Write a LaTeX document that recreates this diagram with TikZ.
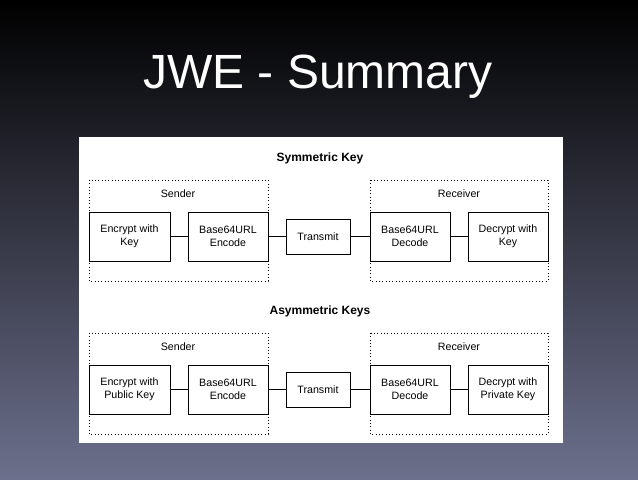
\documentclass[tikz,border=0pt]{standalone}
\usepackage{fontspec}
\setmainfont{Liberation Sans}
\begin{document}
\begin{tikzpicture}[x=0.75pt,y=-0.75pt,
 box/.style={draw,line width=0.7pt,align=center,font=\fontsize{8}{9.5}\selectfont,inner sep=0pt},
 grp/.style={draw,dotted,line width=0.5pt},
 lab/.style={font=\fontsize{8}{9.5}\selectfont},
 hd/.style={font=\bfseries\fontsize{9}{10}\selectfont},
 ln/.style={line width=0.7pt}]
\definecolor{bgbot}{RGB}{108,112,140}
\shade[top color=black,bottom color=bgbot] (0,0) rectangle (638,479);
\useasboundingbox (0,0) rectangle (638,479);
\node[white,font=\fontsize{36}{40}\selectfont] (title) at (318,77) {JWE - Summary};
\fill[white] (79,137) rectangle (563,443);
\foreach \yo/\t/\ka/\kb [count=\i] in {0/Symmetric Key/Key/Key,153/Asymmetric Keys/Public Key/Private Key}{
 \begin{scope}[yshift=-\yo*0.75pt]
 \node[hd] (h\i) at (320,158) {\t};
 \draw[grp] (89,180) rectangle (268,281);
 \draw[grp] (370,180) rectangle (548,281);
 \node[lab] (s\i) at (178,194) {Sender};
 \node[lab] (r\i) at (459,194) {Receiver};
 \node[box,minimum width=81*0.75pt,minimum height=49*0.75pt] (e\i) at (129.5,236.5) {Encrypt with\\\ka};
 \node[box,minimum width=80*0.75pt,minimum height=49*0.75pt] (b\i) at (228,236.5) {Base64URL\\Encode};
 \node[box,minimum width=64*0.75pt,minimum height=35*0.75pt] (t\i) at (318,236.5) {Transmit};
 \node[box,minimum width=80*0.75pt,minimum height=49*0.75pt] (d\i) at (410,236.5) {Base64URL\\Decode};
 \node[box,minimum width=80*0.75pt,minimum height=49*0.75pt] (k\i) at (508,236.5) {Decrypt with\\\kb};
 \draw[ln] (e\i) -- (b\i); \draw[ln] (b\i) -- (t\i); \draw[ln] (t\i) -- (d\i); \draw[ln] (d\i) -- (k\i);
 \end{scope}}
\end{tikzpicture}
\end{document}
